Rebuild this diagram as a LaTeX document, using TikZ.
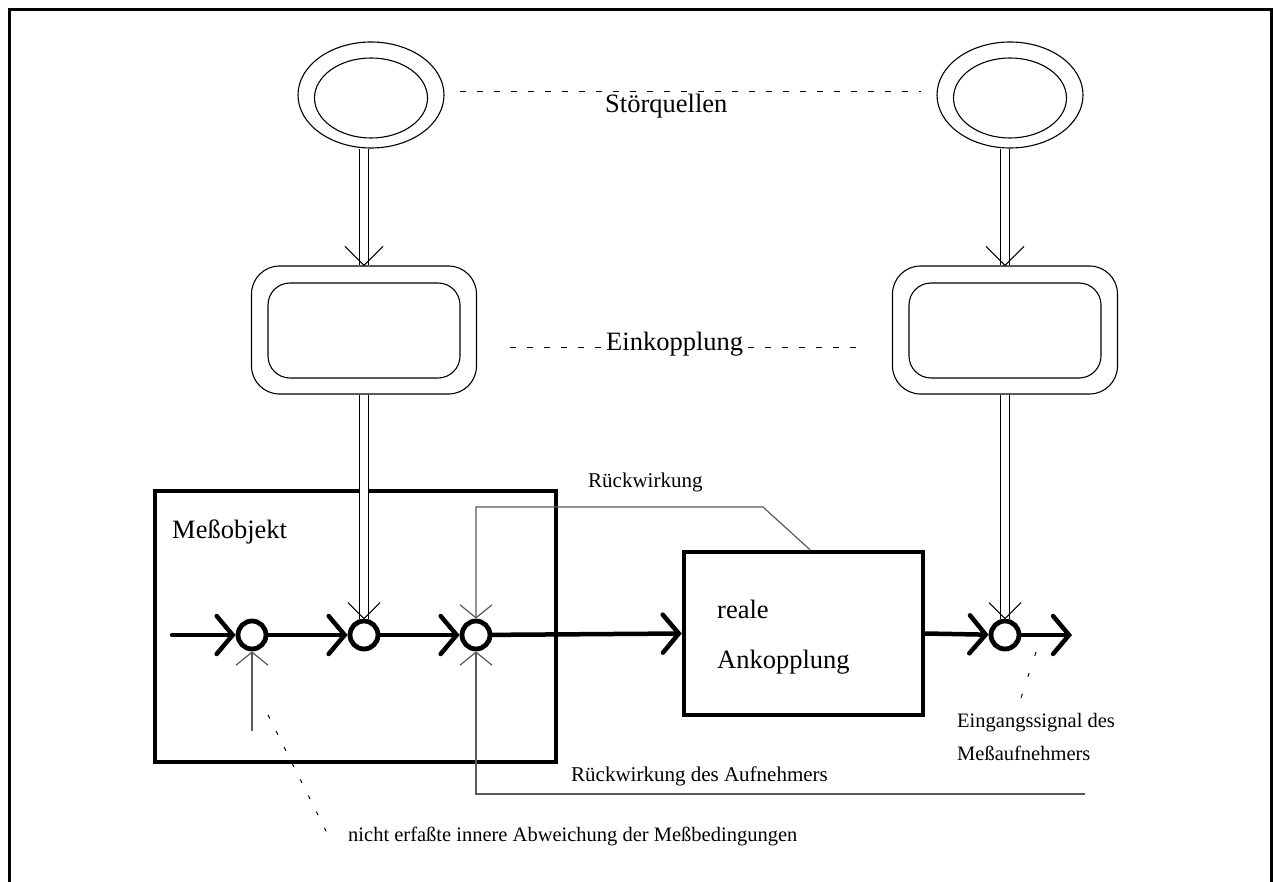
\documentclass[tikz,border=0pt]{standalone}
\usepackage{fontspec}
\setmainfont{Liberation Serif}
\usetikzlibrary{arrows.meta, shapes.geometric}

\begin{document}
\begin{tikzpicture}[x=1pt,y=-1pt,
  big/.style={font=\fontsize{26.5}{30}\selectfont, inner sep=0, anchor=base west},
  small/.style={font=\fontsize{21}{25}\selectfont, inner sep=0, anchor=base west},
  smaller/.style={font=\fontsize{20.5}{25}\selectfont, inner sep=0, anchor=base west},
  ell/.style={ellipse, draw, line width=1.1pt, inner sep=0},
  rbox/.style={rectangle, draw, line width=1.1pt, rounded corners=#1, inner sep=0},
  junction/.style={circle, draw, line width=4.8pt, minimum size=28pt, inner sep=0},
  heavy/.style={rectangle, draw, line width=4.5pt, inner sep=0},
  sig/.style={line width=4.5pt, line cap=round, -{Straight Barb[length=16pt,width=38pt,line cap=round]}},
  feed/.style={line width=1.2pt, black!65},
  fhead/.style={-{Straight Barb[length=13pt,width=32pt]}},
  dbl/.style={double, double distance=7.5pt, line width=1.1pt},
  vhead/.style={line width=1.1pt},
  dots/.style={dash pattern=on 4pt off 14pt, line width=1pt},
  dashes/.style={dash pattern=on 6pt off 11pt, line width=1pt},
]
\useasboundingbox (0,0) rectangle (1273,882);

% frame (open at the bottom)
\draw[line width=2.6pt] (9.3,882) -- (9.3,9.3) -- (1271.5,9.3) -- (1271.5,882);

% Stoerquellen
\node[ell, minimum width=146pt, minimum height=106pt] (ellL) at (371,95) {};
\node[ell, minimum width=113pt, minimum height=80pt] (ellLi) at (371,98) {};
\node[ell, minimum width=146pt, minimum height=106pt] (ellR) at (1010,95) {};
\node[ell, minimum width=113pt, minimum height=80pt] (ellRi) at (1010,98) {};

% Einkopplung
\node[rbox=28pt, minimum width=225pt, minimum height=128pt] (einL) at (364,330) {};
\node[rbox=22pt, minimum width=192pt, minimum height=95pt] (einLi) at (364,330.5) {};
\node[rbox=28pt, minimum width=225pt, minimum height=128pt] (einR) at (1005,330) {};
\node[rbox=22pt, minimum width=192pt, minimum height=95pt] (einRi) at (1005,330.5) {};

% dashed label lines
\draw[dashes, shorten <=15pt, shorten >=15pt] ([yshift=3pt]ellL.east) -- ([yshift=3pt]ellR.west);
\node[big, fill=white] (stoer) at (605,113) {Störquellen};
\draw[dashes, shorten <=33pt, shorten >=32pt] ([yshift=-17pt]einL.east) -- ([yshift=-17pt]einR.west);
\node[big, fill=white] (ein) at (606,350) {Einkopplung};

% Messobjekt and coupling
\node[heavy, minimum width=401pt, minimum height=271pt] (mess) at (355.5,626.5) {};
\node[big] (messT) at (172,538) {Meßobjekt};
\node[heavy, minimum width=239pt, minimum height=163pt] (ank) at (803.5,633.5) {};
\node[big] (ankA) at (717,618) {reale};
\node[big] (ankB) at (717,668) {Ankopplung};

% junctions
\node[junction] (c1) at (252,635) {};
\node[junction] (c2) at (364,635) {};
\node[junction] (c3) at (476,635) {};
\node[junction] (c4) at (1005,635) {};
\coordinate (in) at (172,635);
\coordinate (out) at (1072,635);

% main signal path
\draw[sig] (in) -- (c1);
\draw[sig] (c1) -- (c2);
\draw[sig] (c2) -- (c3);
\draw[sig] (c3) -- (ank.west);
\draw[sig] (ank.east) -- (c4);
\draw[sig] (c4) -- (out);

% double disturbance paths
\draw[dbl] (ellL.south -| einL.north) -- (einL.north);
\draw[vhead] (einL.north) ++(-19,-19) -- ++(19,19) -- ++(19,-19);
\draw[dbl] (einL.south) -- (c2.north);
\draw[vhead] (c2.north) ++(-16,-16) -- ++(16,16) -- ++(16,-16);
\draw[dbl] (ellR.south -| einR.north) -- (einR.north);
\draw[vhead] (einR.north) ++(-19,-19) -- ++(19,19) -- ++(19,-19);
\draw[dbl] (einR.south) -- (c4.north);
\draw[vhead] (c4.north) ++(-16,-16) -- ++(16,16) -- ++(16,-16);

% inner deviation
\coordinate (ab) at (252,731);
\draw[feed, fhead] (ab) -- (c1);

% Rueckwirkung
\coordinate (rkB) at (763,507);
\coordinate (rkC) at (476,507);
\draw[feed, fhead] ([xshift=6.5pt]ank.north) -- (rkB) -- (rkC) -- (c3);
\node[small] (rkT) at (588,487) {Rückwirkung};

% Rueckwirkung des Aufnehmers
\coordinate (raA) at (1085,794);
\draw[feed, fhead] (raA) -- (c3 |- raA) -- (c3);
\node[small] (raT) at (571,781) {Rückwirkung des Aufnehmers};

% annotation: inner deviation
\coordinate (nA) at (268,715);
\coordinate (nB) at (327,833);
\draw[dots] (nA) -- (nB);
\node[smaller] (nT) at (348,841) {nicht erfaßte innere Abweichung der Meßbedingungen};

% annotation: input signal
\coordinate (eA) at (1036,652);
\coordinate (eB) at (1019,704);
\draw[dots, dash pattern=on 4pt off 18pt] (eA) -- (eB);
\node[smaller] (eT1) at (957,727) {Eingangssignal des};
\node[smaller] (eT2) at (957,760) {Meßaufnehmers};
\end{tikzpicture}
\end{document}
